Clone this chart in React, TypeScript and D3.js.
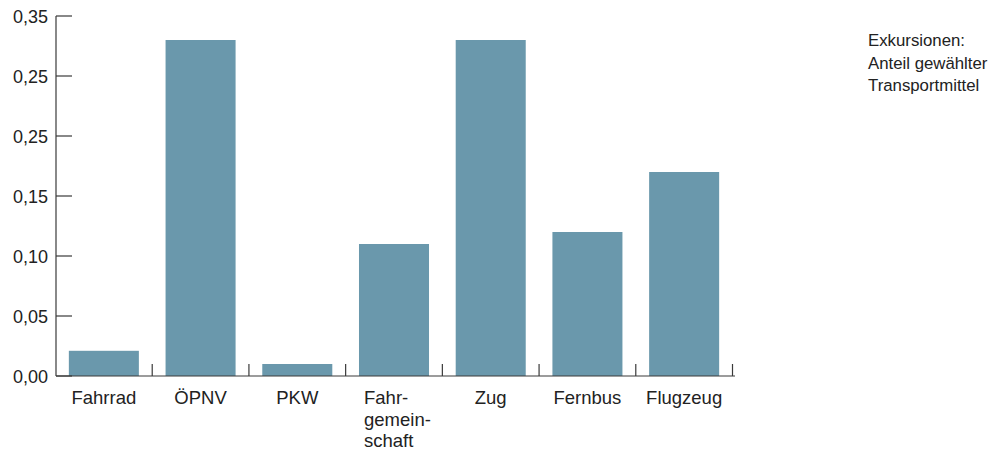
import React from "react";
import * as d3 from "d3";

const categories: string[][] = [
  ["Fahrrad"],
  ["ÖPNV"],
  ["PKW"],
  ["Fahr-", "gemein-", "schaft"],
  ["Zug"],
  ["Fernbus"],
  ["Flugzeug"],
];
const values = [0.021, 0.28, 0.01, 0.11, 0.28, 0.12, 0.17];
const tickValues = [0, 0.05, 0.1, 0.15, 0.2, 0.25, 0.3];
const tickLabels = ["0,00", "0,05", "0,10", "0,15", "0,25", "0,25", "0,35"];
const titleLines = ["Exkursionen:", "Anteil gewählter", "Transportmittel"];

const W = 1007;
const H = 450;
const FONT = "'Liberation Sans', Arial, Helvetica, sans-serif";
const BAR = "#6a98ac";
const AXIS = "#3a3a3a";
const TEXT = "#222";

export default function App() {
  const keys = categories.map((c) => c.join(""));
  const x = d3.scaleBand<string>().domain(keys).range([55.5, 732.5]).padding(0);
  const y = d3.scaleLinear().domain([0, 0.3]).range([376, 16]);
  const barW = x.bandwidth() * 0.724;

  return (
    <svg
      width={W}
      height={H}
      style={{ position: "absolute", left: 0, top: 0, display: "block" }}
      fontFamily={FONT}
    >
      <rect x={0} y={0} width={W} height={H} fill="#fff" />
      {values.map((v, i) => {
        const k = keys[i];
        const cx = (x(k) as number) + x.bandwidth() / 2;
        return (
          <rect
            key={k}
            x={cx - barW / 2}
            y={y(v)}
            width={barW}
            height={y(0) - y(v)}
            fill={BAR}
          />
        );
      })}
      {/* y axis */}
      <line x1={56} x2={56} y1={y(0.3)} y2={y(0)} stroke={AXIS} strokeWidth={1.2} />
      {tickValues.map((t, i) => (
        <g key={i}>
          <line x1={56} x2={72} y1={y(t)} y2={y(t)} stroke={AXIS} strokeWidth={1.2} />
          <text x={48} y={y(t) + 6.5} textAnchor="end" fontSize={18} fill={TEXT}>
            {tickLabels[i]}
          </text>
        </g>
      ))}
      {/* x axis */}
      <line x1={56} x2={735} y1={y(0)} y2={y(0)} stroke={AXIS} strokeWidth={1.2} />
      {keys.map((k, i) => {
        const xr = (x(k) as number) + x.bandwidth();
        return (
          <line key={"xt" + i} x1={xr} x2={xr} y1={y(0)} y2={y(0) - 12} stroke={AXIS} strokeWidth={1.2} />
        );
      })}
      {categories.map((lines, i) => {
        const k = keys[i];
        const cx = (x(k) as number) + x.bandwidth() / 2;
        const multi = lines.length > 1;
        const tx = multi ? cx - 30 : cx;
        return (
          <text
            key={"c" + i}
            x={tx}
            y={404}
            textAnchor={multi ? "start" : "middle"}
            fontSize={18.5}
            fill={TEXT}
          >
            {lines.map((ln, j) => (
              <tspan key={j} x={tx} dy={j === 0 ? 0 : 21.5}>
                {ln}
              </tspan>
            ))}
          </text>
        );
      })}
      <text x={868} y={46} fontSize={16.8} fill={TEXT}>
        {titleLines.map((ln, j) => (
          <tspan key={j} x={868} dy={j === 0 ? 0 : 22.5}>
            {ln}
          </tspan>
        ))}
      </text>
    </svg>
  );
}
